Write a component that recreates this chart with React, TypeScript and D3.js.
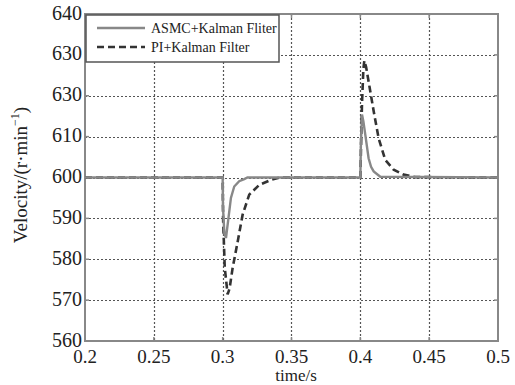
import React, { useEffect, useRef } from 'react';
import * as d3 from 'd3';

const xTicks = [0.2, 0.25, 0.3, 0.35, 0.4, 0.45, 0.5];
const xTickLabels = ['0.2', '0.25', '0.3', '0.35', '0.4', '0.45', '0.5'];
const yTicks = [560, 570, 580, 590, 600, 610, 620, 630, 640];
// the original figure prints "630" twice
const yTickLabels = ['560', '570', '580', '590', '600', '610', '630', '630', '640'];

const asmcTime = [0.2, 0.3, 0.3002, 0.3012, 0.3024, 0.304, 0.306, 0.3084, 0.312, 0.3157, 0.318, 0.4, 0.4004, 0.4012, 0.4022, 0.4036, 0.406, 0.4078, 0.4097, 0.4145, 0.5];
const asmcVel = [600, 600, 593, 586.5, 585.2, 589.5, 595, 597.8, 599.1, 599.6, 600, 600, 608, 615.4, 613.8, 610.5, 604.7, 602.6, 601.5, 600.2, 600];

const piTime = [0.2, 0.3, 0.3003, 0.3015, 0.3036, 0.305, 0.3072, 0.3109, 0.3145, 0.3193, 0.3266, 0.335, 0.3418, 0.4, 0.4004, 0.4012, 0.4022, 0.4029, 0.4042, 0.406, 0.4097, 0.4133, 0.4181, 0.4242, 0.4314, 0.44, 0.5];
const piVel = [600, 600, 590, 578, 571.4, 572.8, 577.8, 584.3, 590.9, 595.8, 598.2, 599.4, 600, 600, 606, 618, 626.5, 628.6, 627, 623.5, 616.2, 609.6, 604.3, 601.9, 600.7, 600.1, 600];

const legendLabels = ['ASMC+Kalman Fliter', 'PI+Kalman Filter'];

const App = () => {
    const svgRef = useRef<SVGSVGElement>(null);

    useEffect(() => {
        const svg = d3.select(svgRef.current);
        svg.selectAll('*').remove();

        const left = 85, right = 498, top = 14, bottom = 341;
        const x = d3.scaleLinear().domain([0.2, 0.5]).range([left, right]);
        const y = d3.scaleLinear().domain([560, 640]).range([bottom, top]);
        const font = '"Liberation Serif", "Times New Roman", serif';

        svg.append('rect')
            .attr('width', 515).attr('height', 385).attr('fill', '#fff');

        // dotted grid
        const grid = svg.append('g')
            .attr('stroke', '#555')
            .attr('stroke-width', 1.2)
            .attr('stroke-dasharray', '2,2');
        xTicks.slice(1, -1).forEach(t => {
            grid.append('line')
                .attr('x1', Math.round(x(t)) + 0.5).attr('x2', Math.round(x(t)) + 0.5)
                .attr('y1', top).attr('y2', bottom);
        });
        yTicks.slice(1, -1).forEach(t => {
            grid.append('line')
                .attr('x1', left).attr('x2', right)
                .attr('y1', Math.round(y(t)) + 0.5).attr('y2', Math.round(y(t)) + 0.5);
        });

        // frame
        svg.append('rect')
            .attr('x', left).attr('y', top)
            .attr('width', right - left).attr('height', bottom - top)
            .attr('fill', 'none').attr('stroke', '#888').attr('stroke-width', 2);

        // ticks (inward)
        const ticks = svg.append('g').attr('stroke', '#888').attr('stroke-width', 1.5);
        xTicks.forEach(t => {
            ticks.append('line').attr('x1', x(t)).attr('x2', x(t)).attr('y1', bottom).attr('y2', bottom - 4);
            ticks.append('line').attr('x1', x(t)).attr('x2', x(t)).attr('y1', top).attr('y2', top + 4);
        });
        yTicks.forEach(t => {
            ticks.append('line').attr('x1', left).attr('x2', left + 4).attr('y1', y(t)).attr('y2', y(t));
            ticks.append('line').attr('x1', right).attr('x2', right - 4).attr('y1', y(t)).attr('y2', y(t));
        });

        // tick labels
        svg.append('g').selectAll('text')
            .data(xTicks)
            .enter().append('text')
            .attr('x', d => x(d))
            .attr('y', 363)
            .attr('text-anchor', 'middle')
            .attr('font-family', font).attr('font-size', 19).attr('fill', '#222')
            .text((d, i) => xTickLabels[i]);
        svg.append('g').selectAll('text')
            .data(yTicks)
            .enter().append('text')
            .attr('x', left - 3)
            .attr('y', d => y(d) + 5.5)
            .attr('text-anchor', 'end')
            .attr('font-family', font).attr('font-size', 20).attr('fill', '#222')
            .text((d, i) => yTickLabels[i]);

        // axis titles
        svg.append('text')
            .attr('x', 296).attr('y', 380.5)
            .attr('text-anchor', 'middle')
            .attr('font-family', font).attr('font-size', 17).attr('fill', '#222')
            .text('time/s');
        const yl = svg.append('text')
            .attr('transform', `translate(27,175) rotate(-90)`)
            .attr('text-anchor', 'middle')
            .attr('font-family', font).attr('font-size', 19).attr('fill', '#222');
        yl.append('tspan').text('Velocity/(r\u00b7min');
        yl.append('tspan').attr('dy', -8).attr('font-size', 12).text('\u22121');
        yl.append('tspan').attr('dy', 8).text(')');

        // curves
        const line = d3.line<[number, number]>().x(d => x(d[0])).y(d => y(d[1]));
        const asmc = asmcTime.map((t, i) => [t, asmcVel[i]] as [number, number]);
        const pi = piTime.map((t, i) => [t, piVel[i]] as [number, number]);

        svg.append('path')
            .attr('d', line(pi))
            .attr('fill', 'none').attr('stroke', '#333').attr('stroke-width', 2.6)
            .attr('stroke-dasharray', '7,4');
        svg.append('path')
            .attr('d', line(asmc))
            .attr('fill', 'none').attr('stroke', '#888').attr('stroke-width', 2.4);

        // legend
        const lg = svg.append('g');
        lg.append('rect')
            .attr('x', left + 1).attr('y', top + 1)
            .attr('width', 193).attr('height', 47)
            .attr('fill', '#fff').attr('stroke', '#555').attr('stroke-width', 1.5);
        const rows = [
            { label: legendLabels[0], color: '#888', dash: null, w: 2.4 },
            { label: legendLabels[1], color: '#333', dash: '7,4', w: 2.6 },
        ];
        rows.forEach((r, i) => {
            const ly = 28 + i * 19;
            lg.append('line')
                .attr('x1', 97).attr('x2', 145).attr('y1', ly).attr('y2', ly)
                .attr('stroke', r.color).attr('stroke-width', r.w)
                .attr('stroke-dasharray', r.dash);
            lg.append('text')
                .attr('x', 151).attr('y', ly + 5)
                .attr('font-family', font).attr('font-size', 14).attr('fill', '#222')
                .text(r.label);
        });
    }, []);

    return (
        <svg ref={svgRef} width={515} height={385}
            style={{ position: 'absolute', left: 0, top: 0 }} />
    );
};

export default App;
